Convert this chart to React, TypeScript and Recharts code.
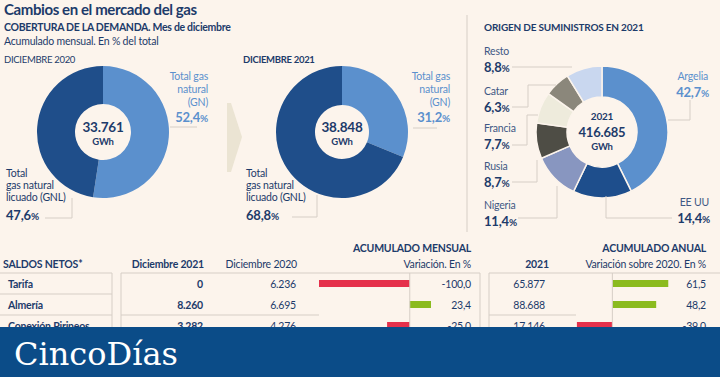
import React from "react";
import { PieChart, Pie, Cell, BarChart, Bar, XAxis, YAxis, ReferenceLine } from "recharts";

// cobertura de la demanda, % del total
const demandaTipos = ["GN", "GNL"];
const dic2020Cuota = [52.4, 47.6];
const dic2021Cuota = [31.2, 68.8];
const dic2020Total = 33761;
const dic2021Total = 38848;

// origen de suministros 2021, % del total
const paises = ["Argelia", "EE UU", "Nigeria", "Rusia", "Francia", "Catar", "Resto"];
const paisesCuota = [42.7, 14.4, 11.4, 8.7, 7.7, 6.3, 8.8];
const suministroTotal = 416685;

// saldos netos
const puntos = ["Tarifa", "Almería", "Conexión Pirineos"];
const saldoDic2021 = [0, 8260, 3282];
const saldoDic2020 = [6236, 6695, 4276];
const varMensual = [-100.0, 23.4, -25.0];
const acum2021 = [65877, 88688, 17146];
const varAnual = [61.5, 48.2, -39.0];

const BG = "#fcf4ec";
const NAVY = "#1d3b6a";
const LIGHT = "#5b90cd";
const DARK = "#1f4e8a";
const LINE = "#d6cec6";
const RED = "#e5304b";
const GREEN = "#8bbb1f";
const FONT = "Lato, 'Open Sans', sans-serif";

const miles = (n: number) => String(n).replace(/\B(?=(\d{3})+(?!\d))/g, ".");
const pct = (n: number) => n.toFixed(1).replace(".", ",");

const demandaColors = [LIGHT, DARK];
const paisColors = ["#5b90cd", "#1e4e8c", "#8896c0", "#4e4d45", "#eeebdc", "#8b877b", "#c9d7ef"];

const dic2020 = demandaTipos.map((t, i) => ({ name: t, value: dic2020Cuota[i] }));
const dic2021 = demandaTipos.map((t, i) => ({ name: t, value: dic2021Cuota[i] }));
const origen = paises.map((p, i) => ({ name: p, value: paisesCuota[i] }));
const filas = puntos.map((p, i) => ({
  name: p,
  d21: saldoDic2021[i],
  d20: saldoDic2020[i],
  mensual: varMensual[i],
  a21: acum2021[i],
  anual: varAnual[i],
}));

type TP = {
  x: number;
  y: number;
  size?: number;
  weight?: number;
  anchor?: "start" | "middle" | "end";
  fill?: string;
  children: React.ReactNode;
  ls?: number;
};
const T = ({ x, y, size = 10.5, weight = 400, anchor = "start", fill = NAVY, children, ls = -0.2 }: TP) => (
  <text x={x} y={y} fontSize={size} fontWeight={weight} textAnchor={anchor} fill={fill} letterSpacing={ls} fontFamily={FONT}>
    {children}
  </text>
);

const Pct = ({ x, y, v, anchor = "start", fill = NAVY }: { x: number; y: number; v: number; anchor?: "start" | "end"; fill?: string }) => (
  <T x={x} y={y} size={13} weight={700} anchor={anchor} fill={fill}>
    {pct(v)}
    <tspan fontSize={10}>%</tspan>
  </T>
);

const Donut = ({ data, colors, left, top, inner, stroke }: { data: { name: string; value: number }[]; colors: string[]; left: number; top: number; inner: number; stroke: number }) => (
  <div style={{ position: "absolute", left: left - 70, top: top - 70 }}>
    <PieChart width={140} height={140} margin={{ top: 0, right: 0, bottom: 0, left: 0 }}>
      <Pie
        data={data}
        dataKey="value"
        cx="50%"
        cy="50%"
        innerRadius={inner}
        outerRadius={66}
        startAngle={90}
        endAngle={-270}
        stroke={BG}
        strokeWidth={stroke}
        isAnimationActive={false}
      >
        {data.map((d, i) => (
          <Cell key={d.name} fill={colors[i]} />
        ))}
      </Pie>
    </PieChart>
  </div>
);

const VarBars = ({ dataKey, domain, left, width }: { dataKey: string; domain: [number, number]; left: number; width: number }) => (
  <div style={{ position: "absolute", left, top: 273 }}>
    <BarChart width={width} height={63} data={filas} layout="vertical" margin={{ top: 0, right: 0, bottom: 0, left: 0 }}>
      <XAxis type="number" domain={domain} hide />
      <YAxis type="category" dataKey="name" hide />
      <ReferenceLine x={0} stroke={LINE} />
      <Bar dataKey={dataKey} barSize={7} isAnimationActive={false}>
        {filas.map((f) => (
          <Cell key={f.name} fill={(f as any)[dataKey] < 0 ? RED : GREEN} />
        ))}
      </Bar>
    </BarChart>
  </div>
);

const lines: number[][][] = [
  [[170, 127], [197, 127]],
  [[45, 218], [72, 218], [72, 198]],
  [[413, 128], [437, 128]],
  [[292, 217], [317, 217], [317, 195]],
  [[512, 67], [572, 67]],
  [[512, 107], [528, 107], [528, 85], [556, 85]],
  [[512, 145], [527, 145], [527, 115], [538, 115]],
  [[512, 182], [537, 182], [537, 160]],
  [[518, 218], [557, 218], [557, 186]],
  [[672, 218], [606, 218], [606, 196]],
  [[668, 120], [690, 120], [690, 100]],
  [[467, 15], [467, 232]],
  [[0, 273], [112, 273], [112, 340]],
  [[0, 294], [112, 294]],
  [[0, 315], [112, 315]],
  [[121, 340], [121, 273], [480, 273], [480, 340]],
  [[121, 315], [319, 315]],
  [[489, 340], [489, 273], [720, 273]],
  [[489, 315], [576, 315]],
];

const rowY = [288, 309, 330];

export default function App() {
  return (
    <div style={{ position: "absolute", left: 0, top: 0, width: 720, height: 377, background: BG, overflow: "hidden", fontFamily: FONT }}>
      <Donut data={dic2020} colors={demandaColors} left={103} top={132} inner={28} stroke={0} />
      <Donut data={dic2021} colors={demandaColors} left={342} top={132} inner={27} stroke={0} />
      <Donut data={origen} colors={paisColors} left={602} top={132} inner={35} stroke={1.5} />
      <VarBars dataKey="mensual" domain={[-100, 30]} left={319} width={118} />
      <VarBars dataKey="anual" domain={[-40, 70]} left={576} width={100} />

      <svg width={720} height={377} style={{ position: "absolute", left: 0, top: 0, pointerEvents: "none" }}>
        {lines.map((l, i) => (
          <polyline key={i} points={l.map((p) => p.join(",")).join(" ")} fill="none" stroke={LINE} strokeWidth={1} />
        ))}
        <polygon points="227,103 231,103 242,137 231,172 227,172" fill="#ebe4d3" />

        <T x={4} y={15} size={15} weight={700} ls={-0.4}>Cambios en el mercado del gas</T>
        <T x={4} y={31} size={10.5} weight={700} ls={-0.3}>COBERTURA DE LA DEMANDA. Mes de diciembre</T>
        <T x={4} y={45} size={10.5}>Acumulado mensual. En % del total</T>
        <T x={4} y={63} size={9.5} ls={-0.3}>DICIEMBRE 2020</T>
        <T x={243} y={63} size={9.5} weight={700} ls={-0.3}>DICIEMBRE 2021</T>

        <T x={103} y={132} size={13.5} weight={700} anchor="middle">{miles(dic2020Total)}</T>
        <T x={103} y={145} size={9.5} weight={700} anchor="middle">GWh</T>
        <T x={342} y={132} size={13.5} weight={700} anchor="middle">{miles(dic2021Total)}</T>
        <T x={342} y={145} size={9.5} weight={700} anchor="middle">GWh</T>
        <T x={602} y={120} size={10} weight={700} anchor="middle">2021</T>
        <T x={602} y={137} size={13} weight={700} anchor="middle">{miles(suministroTotal)}</T>
        <T x={602} y={150} size={9.5} weight={700} anchor="middle">GWh</T>

        {[{ x: 208, v: dic2020Cuota[0] }, { x: 450, v: dic2021Cuota[0] }].map((g, i) => (
          <g key={"gn" + i}>
            <T x={g.x} y={80} anchor="end" fill={LIGHT}>Total gas</T>
            <T x={g.x} y={93} anchor="end" fill={LIGHT}>natural</T>
            <T x={g.x} y={106} anchor="end" fill={LIGHT}>({demandaTipos[0]})</T>
            <Pct x={g.x} y={122} v={g.v} anchor="end" fill={LIGHT} />
          </g>
        ))}
        {[{ x: 6, v: dic2020Cuota[1] }, { x: 246, v: dic2021Cuota[1] }].map((g, i) => (
          <g key={"gnl" + i}>
            <T x={g.x} y={177}>Total</T>
            <T x={g.x} y={189}>gas natural</T>
            <T x={g.x} y={201}>licuado ({demandaTipos[1]})</T>
            <Pct x={g.x} y={220} v={g.v} />
          </g>
        ))}

        <T x={484} y={31} size={10} weight={700} ls={-0.2}>ORIGEN DE SUMINISTROS EN 2021</T>
        {[
          { i: 6, y: 55 },
          { i: 5, y: 95 },
          { i: 4, y: 132 },
          { i: 3, y: 170 },
          { i: 2, y: 209 },
        ].map(({ i, y }) => (
          <g key={paises[i]}>
            <T x={484} y={y} fill="#3f5884">{paises[i]}</T>
            <Pct x={484} y={y + 17} v={paisesCuota[i]} />
          </g>
        ))}
        <T x={708} y={80} anchor="end" fill={LIGHT}>{paises[0]}</T>
        <Pct x={709} y={97} v={paisesCuota[0]} anchor="end" fill={LIGHT} />
        <T x={709} y={206} anchor="end" fill="#3f5884">{paises[1]}</T>
        <Pct x={710} y={223} v={paisesCuota[1]} anchor="end" />

        <T x={3} y={268} size={10.5} weight={700}>SALDOS NETOS*</T>
        <T x={204} y={268} size={10.5} weight={700} anchor="end">Diciembre 2021</T>
        <T x={297} y={268} size={10.5} anchor="end">Diciembre 2020</T>
        <T x={471} y={252} size={10.5} weight={700} anchor="end">ACUMULADO MENSUAL</T>
        <T x={471} y={268} size={10.5} anchor="end">Variación. En %</T>
        <T x={537} y={268} size={10.5} weight={700} anchor="middle">2021</T>
        <T x={706} y={252} size={10.5} weight={700} anchor="end">ACUMULADO ANUAL</T>
        <T x={706} y={268} size={10.5} anchor="end">Variación sobre 2020. En %</T>

        {filas.map((f, i) => (
          <g key={f.name}>
            <T x={8} y={rowY[i]} weight={700}>{f.name}</T>
            <T x={203} y={rowY[i]} weight={700} anchor="end">{miles(f.d21)}</T>
            <T x={296} y={rowY[i]} anchor="end">{miles(f.d20)}</T>
            <T x={471} y={rowY[i]} anchor="end">{pct(f.mensual)}</T>
            <T x={545} y={rowY[i]} anchor="end">{miles(f.a21)}</T>
            <T x={706} y={rowY[i]} anchor="end">{pct(f.anual)}</T>
          </g>
        ))}

        <rect x={0} y={327} width={720} height={50} fill="#0b4c88" />
        <text x={14} y={365} fontSize={32} fill="#ffffff" fontFamily="'DejaVu Serif', serif">CincoDías</text>
      </svg>
    </div>
  );
}
